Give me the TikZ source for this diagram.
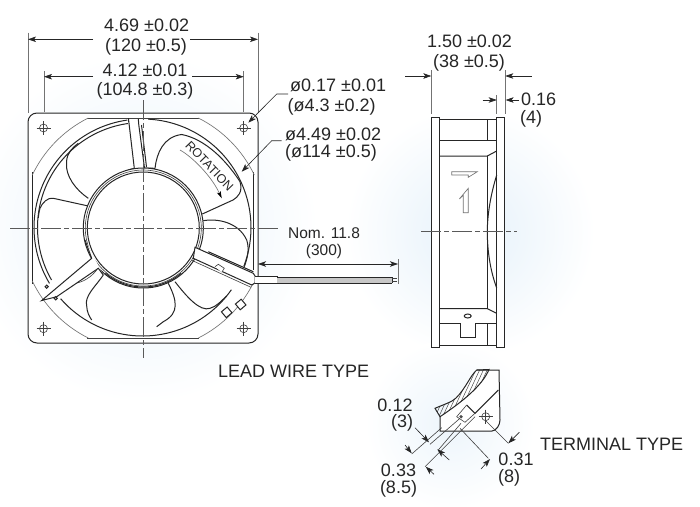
\documentclass[tikz,border=0pt]{standalone}
\usepackage{fontspec}
\setmainfont{Liberation Sans}
\usetikzlibrary{arrows.meta}

\definecolor{glowblue}{RGB}{229,241,250}

\tikzset{
    fanline/.style={draw=black!85,line width=1pt},
    thinline/.style={draw=black!75,line width=0.6pt},
    greyline/.style={draw=black!55,line width=0.65pt},
    extline/.style={draw=black!55,line width=0.7pt},
    centerline/.style={draw=black!65,line width=0.6pt,dash pattern=on 20pt off 3pt on 5pt off 3pt},
    dimarrow/.style={draw=black!85,line width=0.6pt,-{Stealth[length=8pt,width=5.5pt,inset=2pt]}},
    bothways/.style={draw=black!85,line width=0.6pt,{Stealth[length=8pt,width=5.5pt,inset=2pt]}-{Stealth[length=8pt,width=5.5pt,inset=2pt]}},
    dimlabel/.style={font=\fontsize{18}{20}\selectfont,text=black!85,inner sep=0pt},
    nomlabel/.style={font=\fontsize{15.5}{17}\selectfont,text=black!85,inner sep=0pt},
    tabmark/.style={fanline,fill=white,minimum size=7.5pt,inner sep=0pt,rotate=40},
    screwhole/.pic={
        \draw[thinline] (0,0) circle (4);
        \draw[thinline] (-7,0) -- (7,0);
        \draw[thinline] (0,-7) -- (0,7);
    },
}

\begin{document}
\begin{tikzpicture}[x=1pt,y=-1pt]
    \useasboundingbox (0,0) rectangle (700,506);
    % soft background
    \fill[white] (0,0) rectangle (700,506);
    \shade[inner color=glowblue,outer color=white] (143,228) circle (175);
    \shade[inner color=glowblue,outer color=white] (470,232) circle (125);
    \shade[inner color=glowblue!70,outer color=white] (450,425) circle (85);

    \coordinate (fc) at (143.3,228);
    \coordinate (rc) at (142.5,227.5);

    % fan, front view
    \draw[fanline,fill=white,rounded corners=9] (28,113) rectangle (258,343);
    \draw[thinline] (87,118) -- (199,118);
    \draw[thinline] (87,338) -- (199,338);
    \draw[fanline] (32,172) -- (32,284);
    \draw[fanline] (253.5,172) -- (253.5,270);
    \foreach \a in {-63.4,25.5,116.6,205.5}
        \draw[greyline,shift={(fc)}] (\a:123) arc (\a:\a+37.9:123);
    \foreach \x/\y in {43.5/128,243.7/128,43.5/328.7,243.7/328.7}
        \pic at (\x,\y) {screwhole};

    % venturi rings
    \draw[fanline,shift={(rc)}] (-87:108.5) arc (-87:21:108.5);
    \draw[fanline,shift={(rc)}] (35:108.5) arc (35:139:108.5);
    \draw[fanline,shift={(rc)}] (149:108.5) arc (149:262:108.5);
    \draw[fanline,shift={(rc)}] (150:105) arc (150:262:105);
    \draw[fanline] (128.3,118.3) -- (128.3,121.5);

    % blades
    \draw[fanline] (88.3,198.3) .. controls (76,190) and (65,176) .. (66.5,162)
        .. controls (67,153) and (72,148) .. (78.3,143.3);
    \draw[fanline] (155,168.3) .. controls (156.7,153.3) and (163.3,136.7) .. (181.7,134.5)
        .. controls (205,139) and (226,160) .. (240,181.7)
        .. controls (243,192) and (238,197) .. (233,200) -- (202.3,214);
    \draw[fanline] (203.3,220.7) .. controls (216.7,218.3) and (238.3,221.7) .. (246.7,240)
        .. controls (250,250) and (246.7,260) .. (244.3,266.7);
    \draw[fanline] (175,281.7) .. controls (186.7,296.7) and (200,312) .. (210,308.3)
        .. controls (216.7,306.7) and (222,300) .. (226.7,296);
    \draw[fanline] (168.3,283.3) .. controls (176.7,300) and (180,313) .. (163.3,321.7) -- (156.7,326.7);
    \draw[fanline] (103.3,275) .. controls (96,286) and (84,296) .. (86.7,306) .. controls (87,312) and (89,316) .. (91.7,320);
    \draw[fanline] (88.3,206) -- (53.3,198.3) .. controls (48,197) and (42,203) .. (40,208.3)
        .. controls (39,212) and (38.5,215) .. (38.3,218);
    \draw[thinline] (71.7,283.3) .. controls (78,284) and (89,280) .. (96.7,270);

    % top strut
    \draw[fanline] (128.5,119) -- (134.3,168.3) -- (128,170);
    \draw[fanline] (138.3,119) -- (138.8,125) -- (144.5,168) -- (155,168.3);
    \draw[fanline] (141.5,125) -- (146.5,167);

    % hub
    \draw[fanline,fill=white] (fc) circle (60);
    \draw[thinline] (fc) circle (58);
    \draw[fanline] (fc) circle (56);
    \draw[fanline,shift={(fc)}] (50:59) arc (50:130:59);

    % lower struts
    \draw[fanline,fill=white] (85,240) -- (91.7,258.3) -- (41.7,300.5) -- (56.7,296.7) -- (98.3,268.3) -- (103.3,275);
    \draw[fanline,fill=white] (46.7,286.7) circle (1.6);
    \draw[fanline,fill=white] (55.7,298.3) circle (1.6);
    \draw[fanline,fill=white] (195,247.3) -- (253.3,273.3) -- (255,276) -- (255,283) -- (251.7,285) -- (193.3,258.3) -- cycle;
    \draw[fanline] (208.3,251.7) -- (253.3,271.7);
    \draw[thinline] (191.7,260.3) -- (251,287.3);
    \draw[thinline,fill=white] (215,266.7) -- (218.3,264.3) -- (224.3,268.3) -- (221.7,272.3);
    \node[tabmark] (tabA) at (226.7,312.3) {};
    \node[tabmark] (tabB) at (240.7,304.5) {};

    % rotation mark
    \node[font=\fontsize{12.5}{14}\selectfont,text=black!85,inner sep=0pt,rotate=-46] (rotT) at (209.5,166) {ROTATION};
    \coordinate (rotA) at (180,150);
    \coordinate (rotB) at (221.7,198.3);
    \draw[greyline,-{Stealth[length=7pt,width=4pt,inset=1.5pt,black]}] (rotA) .. controls (191,156) and (211,175) .. (rotB);

    % lead wire
    \draw[fanline,fill=white] (255,276) -- (277,276) -- (277,283) -- (255,283);
    \fill[black!22] (277,277) rectangle (392,283);
    \draw[fanline] (277,277) -- (392,277);
    \draw[fanline] (277,283) -- (392,283);
    \draw[fanline] (392,277) -- (392,283);
    \draw[thinline] (392,278.5) -- (397,278.5);
    \draw[thinline] (392,281.5) -- (397,281.5);

    % center lines, front view
    \draw[centerline] (10,228) -- (279,228);
    \draw[centerline] (143.3,100) -- (143.3,358);

    % outer dimensions
    \coordinate (wa) at (28,39.3);
    \coordinate (wb) at (258,39.3);
    \coordinate (ia) at (44,76.7);
    \coordinate (ib) at (243.7,76.7);
    \draw[extline] (28,32.7) -- (28,113);
    \draw[extline] (258,32.7) -- (258,113);
    \draw[extline] (44,71) -- (44,112);
    \draw[extline] (243.7,71) -- (243.7,112);
    \draw[dimarrow] (93,39.3) -- (wa);
    \draw[dimarrow] (190,39.3) -- (wb);
    \draw[dimarrow] (93,76.7) -- (ia);
    \draw[dimarrow] (192,76.7) -- (ib);
    \node[dimlabel] (widthA) at (146.7,25.7) {4.69 ±0.02};
    \node[dimlabel] (widthB) at (146,46.7) {(120 ±0.5)};
    \node[dimlabel] (pitchA) at (145,70) {4.12 ±0.01};
    \node[dimlabel] (pitchB) at (145,91) {(104.8 ±0.3)};

    % hole and venturi leaders
    \node[dimlabel,anchor=west] (holeA) at (290,85.5) {ø0.17 ±0.01};
    \node[dimlabel,anchor=west] (holeB) at (287.5,107) {(ø4.3 ±0.2)};
    \node[dimlabel,anchor=west] (ventA) at (285,134) {ø4.49 ±0.02};
    \node[dimlabel,anchor=west] (ventB) at (285,153) {(ø114 ±0.5)};
    \coordinate (holeTip) at (248.3,122.7);
    \coordinate (ventTip) at (241.7,171.7);
    \draw[dimarrow] (288,94) -- (276.7,94) -- (holeTip);
    \draw[dimarrow] (281.7,140.7) -- (271.7,140.7) -- (ventTip);

    % wire length
    \coordinate (wireA) at (258,264);
    \coordinate (wireB) at (398,264);
    \draw[extline] (398,259) -- (398,284);
    \draw[bothways] (wireA) -- (wireB);
    \node[nomlabel] (nomA) at (324,233) {Nom. 11.8};
    \node[nomlabel] (nomB) at (324,251.5) {(300)};

    % side view
    \fill[white] (431.3,117.3) rectangle (504.7,347.3);
    \draw[fanline] (431.3,117.3) rectangle (439.7,347.3);
    \draw[fanline] (496.7,117.3) rectangle (504.7,347.3);
    \draw[fanline] (439.7,119) -- (496.7,119);
    \draw[fanline] (439.7,345) -- (496.7,345);
    \draw[fanline] (487.3,119) -- (487.3,140.7);
    \draw[fanline] (487.3,156) -- (487.3,308.7);
    \draw[fanline] (487.3,323.3) -- (487.3,345);
    \draw[fanline] (439.7,140.7) -- (496.7,140.7);
    \draw[fanline] (439.7,156) -- (487.3,156) -- (496.7,151);
    \draw[fanline] (439.7,308.7) -- (487.3,308.7) -- (496.7,313.3);
    \draw[fanline] (439.7,323.3) -- (496.7,323.3);
    \draw[fanline] (496.7,175) .. controls (489,200) and (487.3,220) .. (487.3,231.7)
        .. controls (487.3,250) and (490,270) .. (496.7,288);
    \draw[greyline] (451.7,171.7) -- (477.3,171.7) -- (468.3,177.3) -- (468.3,175) -- (451.7,175) -- cycle;
    \draw[greyline] (468.3,188.3) -- (468.3,212.7) -- (463.3,212.7) -- (463.3,195) -- (459.3,199) -- cycle;
    \draw[fanline] (467.7,316) ellipse (3.5 and 2);
    \draw[fanline,fill=white] (460,323.3) -- (460,337.3) -- (475.3,337.3) -- (475.3,323.3);
    \draw[centerline] (421,231.7) -- (517,231.7);

    % side dimensions
    \coordinate (sideA) at (431.3,76);
    \coordinate (sideB) at (505.3,76);
    \coordinate (flangeA) at (496.7,100);
    \coordinate (flangeB) at (505.6,100);
    \draw[extline] (431.3,70) -- (431.3,114);
    \draw[extline] (505.3,70) -- (505.3,114);
    \draw[extline] (496.7,95) -- (496.7,114);
    \draw[dimarrow] (405,76) -- (sideA);
    \draw[dimarrow] (531.7,76) -- (sideB);
    \draw[dimarrow] (482.7,100) -- (flangeA);
    \draw[dimarrow] (519,100) -- (flangeB);
    \node[dimlabel] (depthA) at (469.5,41.5) {1.50 ±0.02};
    \node[dimlabel] (depthB) at (469,62.5) {(38 ±0.5)};
    \node[dimlabel,anchor=west] (flangeC) at (521,99.5) {0.16};
    \node[dimlabel] (flangeD) at (531,119) {(4)};

    % titles
    \node[dimlabel,anchor=west] (leadT) at (218,371) {LEAD WIRE TYPE};
    \node[dimlabel,anchor=west] (termT) at (540,444) {TERMINAL TYPE};

    % terminal detail
    \draw[fanline,fill=white] (476.7,370) -- (499,370) -- (500,420) .. controls (500,425) and (496,431) .. (492,431) -- (440,431) -- (440,416.7);
    \begin{scope}
        \clip (435,408.3) .. controls (445,404) and (452,402) .. (456,398) .. controls (466,388) and (470,376) .. (476.7,370) -- (489,369.5)
            .. controls (482,386) and (462,402) .. (440,416.7) -- cycle;
        \foreach \i in {0,...,20}
            \draw[draw=black!75,line width=0.45pt] ({425+\i*3.8},430) -- ({425+\i*3.8+28},370);
    \end{scope}
    \draw[fanline] (435,408.3) .. controls (445,404) and (452,402) .. (456,398) .. controls (466,388) and (470,376) .. (476.7,370) -- (489,369.5)
        .. controls (482,386) and (462,402) .. (440,416.7) -- cycle;
    \draw[fanline] (466.7,405) -- (475,413.3) -- (498.3,390);
    \draw[thinline] (466.7,405) -- (456.7,416.7) -- (465,422.3) -- (475,413.3);
    \fill[black!70] (461,416.7) circle (1.8);
    \pic at (485.7,416.7) {screwhole};

    \coordinate (capA) at (429,442.3);
    \coordinate (capB) at (411.7,453.3);
    \coordinate (spanA) at (437.3,449.3);
    \coordinate (spanB) at (425.7,466.7);
    \coordinate (holeC) at (508.3,443.3);
    \coordinate (holeD) at (490,459);
    \draw[thinline] (411.7,454) -- (441.7,427.7);
    \draw[thinline] (430,444.3) -- (460,418.3);
    \draw[thinline] (438.3,450) -- (461,423.3);
    \draw[thinline] (425,466.7) -- (475,416.7);
    \draw[thinline] (460,428.3) -- (488.3,458.3);
    \draw[thinline] (485,420) -- (508.3,443.3);
    \draw[dimarrow] (415,427.7) -- (capA);
    \draw[dimarrow] (405,445) -- (capB);
    \draw[dimarrow] (449.3,460) -- (spanA);
    \draw[dimarrow] (434,474.3) -- (spanB);
    \draw[dimarrow] (481,469) -- (holeD);
    \draw[dimarrow] (519.3,432.3) -- (holeC);
    \node[dimlabel] (capC) at (395,405) {0.12};
    \node[dimlabel] (capD) at (402,423) {(3)};
    \node[dimlabel] (spanC) at (398.5,470) {0.33};
    \node[dimlabel] (spanD) at (398.5,489) {(8.5)};
    \node[dimlabel] (holeE) at (516,459) {0.31};
    \node[dimlabel] (holeF) at (509,478) {(8)};
\end{tikzpicture}
\end{document}
